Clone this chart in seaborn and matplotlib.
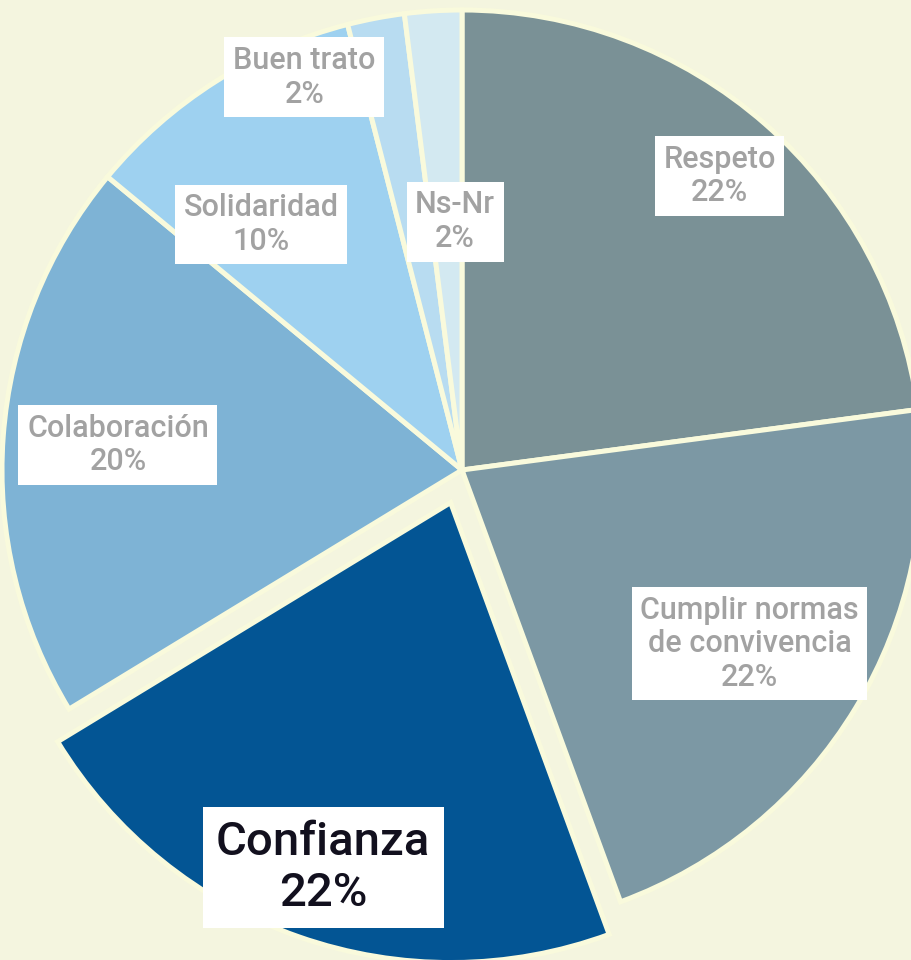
import numpy as np
import matplotlib
matplotlib.use("Agg")
import matplotlib.pyplot as plt
import seaborn as sns

# ---- data ----
categories = ["Respeto", "Cumplir normas\nde convivencia", "Confianza",
              "Colaboración", "Solidaridad", "Buen trato", "Ns-Nr"]
values = [22.9, 21.5, 21.9, 19.7, 10.0, 2.0, 2.0]
pct_labels = ["22%", "22%", "22%", "20%", "10%", "2%", "2%"]
colors = ["#7a9196", "#7c98a4", "#035594", "#7eb3d5", "#9ed1f0", "#b8dcf1", "#d3e9f1"]
highlight = "Confianza"

# ---- layout / style ----
explode = [0.075 if c == highlight else 0 for c in categories]
label_dist = [0.85, 0.73, 0.84, 0.75, 0.69, 0.92, 0.54]
label_off = [0, 0, 0, 0, 6.9, 11.1, -2.0]
BG = "#f4f5df"
EDGE = "#f9fadc"

sns.set_theme(style="white")
plt.rcParams["font.family"] = ["Roboto", "DejaVu Sans"]

fig = plt.figure(figsize=(9.12, 9.6), dpi=100)
fig.patch.set_facecolor(BG)
ax = fig.add_axes([0, 0, 1, 1])
ax.set_facecolor(BG)

pal = sns.color_palette(colors)
wedges, _ = ax.pie(values, colors=pal, startangle=90, counterclock=False,
                   explode=explode, radius=1.0,
                   wedgeprops=dict(edgecolor=EDGE, linewidth=3.6))

for w, cat, pct, d, off in zip(wedges, categories, pct_labels, label_dist, label_off):
    mid = np.deg2rad((w.theta1 + w.theta2) / 2 + off)
    cx, cy = w.center
    x = cx + d * np.cos(mid)
    y = cy + d * np.sin(mid)
    if cat == highlight:
        fs, col = 34, "#12101e"
    else:
        fs, col = 22, "#a2a2a2"
    ax.text(x, y, f"{cat}\n{pct}", ha="center", va="center", fontsize=fs,
            color=col, linespacing=1.2, multialignment="center", fontweight="medium",
            bbox=dict(boxstyle="square,pad=0.28", facecolor="white", edgecolor="none"))

scale = 460.0
cxp, cyp = 462, 470
ax.set_xlim(-cxp / scale, (912 - cxp) / scale)
ax.set_ylim(-(960 - cyp) / scale, cyp / scale)
ax.set_aspect("auto")
ax.axis("off")

fig.savefig("out.png", dpi=100, facecolor=BG)
